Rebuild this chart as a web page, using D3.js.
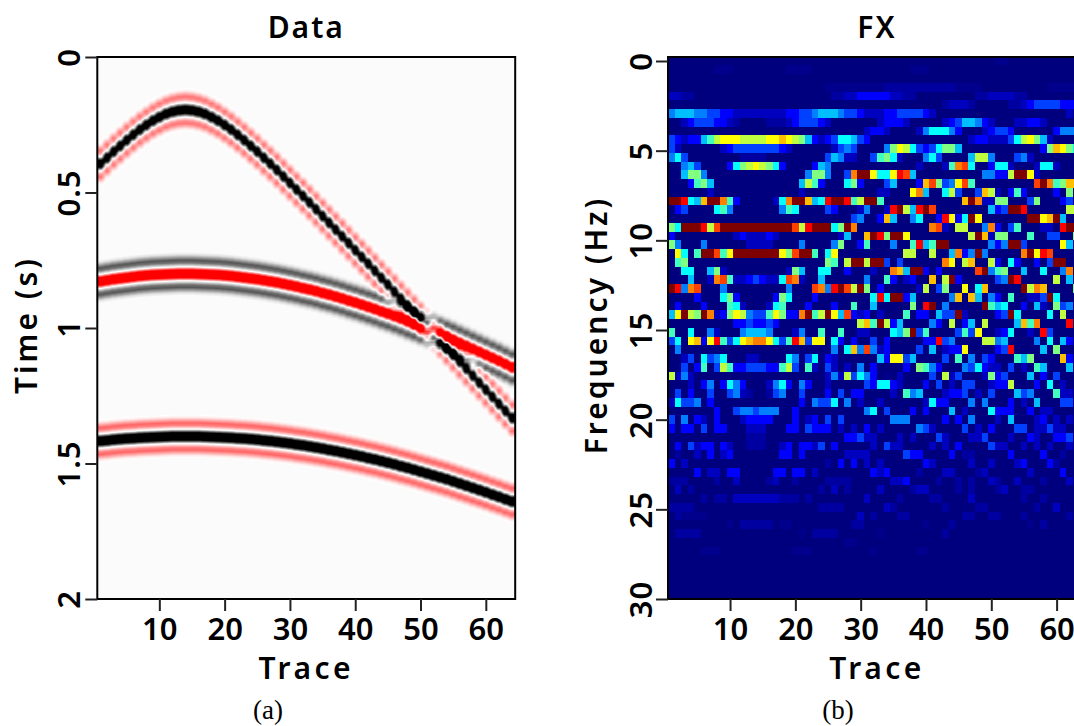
<!DOCTYPE html>
<html>
<head>
<meta charset="utf-8">
<script src="https://cdn.jsdelivr.net/npm/d3@7"></script>
<style>
  html, body { margin: 0; padding: 0; background: #fff; overflow: hidden; }
  svg { display: block; }
  text { fill: #000; font-family: "Noto Sans", sans-serif; font-weight: 600; }
  .caption { font-family: "Liberation Serif", serif; font-weight: 400; font-size: 27px; }
</style>
</head>
<body>
<svg id="chart" width="1074" height="726"></svg>
<script>
const traceTicks = [10, 20, 30, 40, 50, 60]
const timeTicks = [0, 0.5, 1, 1.5, 2]
const timeTickLabels = ['0', '0.5', '1', '1.5', '2']
const freqTicks = [0, 5, 10, 15, 20, 25, 30]

// picks (seconds), trace 1 to 64
const eventA = [
  0.394, 0.372, 0.349, 0.328, 0.307, 0.287, 0.268, 0.251, 0.235, 0.222, 0.210, 0.202, 0.197, 0.195,
  0.197, 0.202, 0.210, 0.222, 0.235, 0.251, 0.268, 0.287, 0.307, 0.328, 0.349, 0.372, 0.394, 0.417,
  0.441, 0.465, 0.489, 0.513, 0.537, 0.562, 0.587, 0.612, 0.637, 0.662, 0.687, 0.713, 0.738, 0.763,
  0.789, 0.815, 0.840, 0.866, 0.892, 0.917, 0.943, 0.969, 0.995, 1.021, 1.046, 1.072, 1.098, 1.124,
  1.150, 1.176, 1.202, 1.228, 1.254, 1.280, 1.306, 1.332,
]
const eventB = [
  0.828, 0.824, 0.820, 0.817, 0.814, 0.811, 0.808, 0.806, 0.804, 0.803, 0.802, 0.801, 0.800, 0.800,
  0.800, 0.801, 0.802, 0.803, 0.804, 0.806, 0.808, 0.811, 0.814, 0.817, 0.820, 0.824, 0.828, 0.832,
  0.837, 0.842, 0.847, 0.853, 0.858, 0.864, 0.871, 0.877, 0.884, 0.891, 0.899, 0.906, 0.914, 0.922,
  0.930, 0.939, 0.947, 0.956, 0.965, 0.975, 0.984, 0.994, 1.003, 1.013, 1.024, 1.034, 1.044, 1.055,
  1.066, 1.077, 1.088, 1.099, 1.110, 1.121, 1.133, 1.145,
]
const eventC = [
  1.417, 1.415, 1.412, 1.410, 1.408, 1.407, 1.405, 1.404, 1.403, 1.402, 1.401, 1.400, 1.400, 1.400,
  1.400, 1.400, 1.401, 1.402, 1.403, 1.404, 1.405, 1.407, 1.408, 1.410, 1.412, 1.415, 1.417, 1.420,
  1.423, 1.426, 1.430, 1.433, 1.437, 1.441, 1.445, 1.450, 1.454, 1.459, 1.464, 1.469, 1.474, 1.480,
  1.485, 1.491, 1.497, 1.503, 1.510, 1.516, 1.523, 1.530, 1.537, 1.544, 1.551, 1.558, 1.566, 1.574,
  1.582, 1.590, 1.598, 1.606, 1.615, 1.623, 1.632, 1.640,
]
// gain of each event: black centre (+) or red centre (-)
const eventGain = [0.9, -1.05, 1]

// wavelet seen on the events, lag in seconds and amplitude
const waveletLag = [-0.08, -0.07, -0.06, -0.05, -0.04, -0.03, -0.025, -0.02, -0.01, 0, 0.01, 0.02, 0.025, 0.03, 0.04, 0.05, 0.06, 0.07, 0.08]
const waveletAmp = [0, -0.1, -0.36, -0.62, -0.5, -0.12, 0.05, 0.5, 1.3, 1.6, 1.3, 0.5, 0.05, -0.12, -0.5, -0.62, -0.36, -0.1, 0]

// FX amplitudes, one string per 0.488 Hz row: "trace:level", level 0-f on the colour bar, , and - are the faintest
const fxFreqStep = 0.488
const fxRows = [
  '50-51:,',
  '7-9:, 18-21:, 37-39:,',
  '',
  '24-29:, 30-47:, 33-43:- 58-62:,',
  '0-1:1 2-3:- 25-26:- 27-28:1 29-33:2 34-35:1 36-37:- 47-54:- 49-52:1',
  '42-46:- 43-45:1 52-53:- 54:1 55:2 56-59:3 60-62:2',
  '0:4 1-3:5 4-5:4 6-7:3 8-9:2 10-17:1 18-19:2 20-21:3 22:4 23-25:5 26:4 27-28:3 29:2 30-32:1 33-34:2 35-38:3 39:2 40:1 61:1',
  '2:1 3:2 4-6:3 7-8:2 9:1 10:- 15-17:- 18:1 19:2 20-22:3 23:2 24:1 32:1 33-35:2 36:1 42:1 43:2 44:3 45-46:5 47:4 48:2 49:1 53-54:1 55-56:2 57:1',
  '30:1 31-32:2 33:1 38:1 39:4 40-42:6 43:4 44:2 48:1 49:2 50-51:3 52:2 59:2 60-62:4',
  '0:3 1:2 2:1 3-4:2 5:5 6:7 7:9 8-10:a 11-14:9 15-16:a 17:b 18:a 19:9 20:8 21:5 22:2 23:1 24:2 25:3 26-27:6 28:5 29:3 30:2 46:1 47-48:2 49-51:1 52:3 53:6 54:9 55:a 56:8 57:5 58:1',
  '0:3 1:1 8:1 9:2 10-16:3 17:2 18:1 25:1 26:3 27:4 28:3 33:4 34:8 35:a 36:9 37:6 38:3 39:2 40:3 41:6 42-43:8 44:5 57:2 58:8 59:b 60:a 61:8 62:6',
  '0:4 1:6 2:3 11-14:- 24:3 25:5 26:4 27-28:1 31:3 32:7 33:8 34:6 35:1 39:4 40:6 41:3 46:5 47-48:9 49:4 53:3 54:4 55:1',
  '2:4 3:5 4:3 9:2 10:6 11:8 12:9 13:a 14:9 15:8 16:6 17:2 22:2 23:5 24:4 38:1 42:1 43:7 44:c 45:d 46:6 49:2 50-51:6 52:1 56:1 57-58:6 59:1',
  '2:5 3-4:8 5:4 21:4 22-23:8 24:4 27:3 28:c 29-30:f 31:a 32-33:6 34:a 35:e 36:d 37:5 48-49:4 50-51:2 52:9 53-54:f 55:a 56:1',
  '3:2 4:7 5:8 6:5 20:5 21:9 22:7 23:2 27:6 28:8 29:2 33:3 34:5 38:2 39:b 40:d 41:8 42:3 43:4 44:a 45:d 46:7 56:d 57:f 58:c 59:7 60:8 61-62:b',
  '6:1 20:1 32-33:1 37:a 38:c 39:5 42:6 43:9 44:3 47:3 48:b 49:9 50:1 52:2 53:7 54:2 59:2 61:8',
  '0-1:f 2:e 3:6 4:5 5:b 6-7:f 8:c 9:7 10:2 16:1 17:6 18:c 19-20:f 21:b 22:5 23:6 24:e 25-26:f 27:e 28:7 29:9 30-31:f 32:7 45:b 46:f 47:c 48-49:1 50-51:8 55:3 56:8 60:2 61:3',
  '1:2 2:3 7:6 8:7 9:4 17:4 18:7 19:6 24:3 25:2 29:1 30:4 33:1 34:e 35:f 36:9 37:5 38:e 39:f 40:d 49:5 50:2 51:3 52-53:f 54:e 61-62:9',
  '28:3 29:4 32:2 33:b 34:5 37:4 38:6 41:2 42:e 43:a 44:2 45:6 46:f 47:a 55-56:f 57:a 58:b 59:f 60:5',
  '0:8 1:6 2-4:f 5:e 6:9 7:d 8-18:f 19:d 20:9 21:e 22-24:f 25:6 26:8 27:f 28:c 40:c 41:d 42:1 44-45:9 48:4 49:c 50:2 52:3 53:7 57-58:1 60:e 61-62:f',
  '0:2 10:1 11:2 12-14:1 15:2 16:1 26:1 27:5 30:b 31:f 32:e 33:8 34-35:f 36:a 46:9 47:f 48:b 49:1 50-51:8 55:7 58-59:3 62:8',
  '0:8 1:4 5:4 12-15:1 20:4 25:4 26:8 29:2 30:7 34:4 37:7 38:e 39:5 40:7 41-42:f 49:4 50:2 51:4 52-53:f 54:3 60:a 61:5',
  '1:a 2:6 4:7 5-6:f 7:d 8:7 9:a 10-16:f 17:a 18:8 19:d 20-21:f 22:7 24:6 25:a 36-37:9 40:9 43:5 44:c 45:2 46:4 47:f 48:4 54:c 55:f 56:a 57:e 58:d',
  '1:7 2:8 24:8 25:7 27:9 28-29:f 30:9 31-32:f 33:3 35:3 42:c 43:a 45:9 46:b 49:9 50:2 52:6 53:2 56:2 58:3 59-60:f',
  '2-3:6 6:5 7:8 8:1 18:1 19:8 20:5 23-24:6 27:2 31:1 34:c 35:b 36:5 37-38:f 39:2 41:2 47:d 48:f 49:4 50:7 51:8 54:5 57:6 60:4 61:c',
  '3:5 6:1 7:c 8:d 9:7 10-11:1 12:2 13:3 14:2 15-16:1 17:6 18:d 19:c 20:1 23:5 30:4 33:7 34:2 36:1 37:2 40:b 42:9 43:f 44:2 50:3 51:4 52:f 53:e 59:9 61:5',
  '0:f 1:e 2:4 3:c 4:d 8:4 18:4 22:d 23:c 24:4 25:e 26:f 27:d 28:9 29:f 30:8 32:2 38:1 39:9 41:3 42:8 45:a 47:6 48:b 54:f 55:9 56:c 57:b 62:8',
  '4:2 8:6 9:8 10:2 16:2 17:8 18:6 22:2 31:6 32:e 33:6 34-35:f 36:2 37:5 43:4 44:b 46:b 47:5 49:4 50:2 52:7 55-56:1 57:3 58:f 59:6',
  '1:2 5:2 9:7 10:6 11:1 15:1 16:6 17:7 21:2 25:2 28:7 31:5 37:8 39:e 40:f 42:4 48:f 49:7 50:5 51:6 54:2 56:5 57:1 59:8 60:3 61:4',
  '0:5 1:a 2:f 3:9 4:8 5:f 6:c 7:1 8:2 9:8 10:a 11:9 12:4 13-14:3 15:7 16:a 17:8 18-19:2 20:c 21:f 22:7 23:9 24:f 25:a 26:5 27:d 28:2 29:1 30:2 32:1 36:7 38-39:2 41:5 42-43:3 44:f 45:1 50:2 51:3 52:f 53:6 58:6 60:9',
  '10-11:2 12:3 13-14:2 15:3 16:2 29:9 30:b 31:7 32:f 33:9 34:2 35:5 40:4 41:2 43:9 45:2 46:5 48:9 53:5 54:b 55:7 56:c 61:e',
  '0:7 3:6 6:4 7:1 11:4 12-14:5 15:4 19:1 20:4 23:7 26:7 29-30:1 34:6 35:5 36:8 37:f 38:3 39:7 44:3 45:7 46:3 47:a 50:1 51:2 52:6 55:1 57:e 58:3',
  '0:3 1:6 3:a 4:b 5:2 6:a 7:e 8:7 9:3 10:6 11:a 12:b 13-14:c 15:a 16:6 17:3 18:7 19:e 20:b 21:3 22-23:a 25:6 26:2 28:2 31:3 33:2 39-40:2 41:e 42:3 43:4 48-49:9 50:4 51:5 56:4 58:6 60:5 61:2',
  '1:4 25:4 27:6 28:b 29:4 30:d 31:4 32:1 33:2 38:3 40:5 42:1 43-44:2 45:a 50:2 51:3 52:e 57:5 59:8',
  '2:1 3:3 5:6 6:3 7:4 8:6 12-13:1 18:6 19:4 21:3 22:6 24:2 25:1 32:5 33:2 34-35:a 36:3 37:5 42:3 44:7 46:4 48:3 49:2 53:7 54:5 55:8 60:b 61:2',
  '2:3 4:2 5:7 7:3 8:9 9:7 10-11:2 12-14:3 15-16:2 17:7 18:9 19:3 21:7 22:1 24:3 25:1 27:1 29:4 31:2 36:2 38:8 39:7 40:4 41:2 45:4 46:3 47:6 48:2 49-50:1 52:3 54:1 56:7 57:5 61:5',
  '0:9 1:1 2:4 3:1 24:1 25:4 26:1 27:9 28:3 29:6 30:4 31:2 33:, 35:1 40:3 42:9 43:1 44:3 48:1 49:8 50:2 51:3 55:5 57:2 59:3',
  '3:1 5:2 6:4 8:2 9:6 10:4 11:2 15:1 16:4 17:6 18:2 20:4 21:2 24:1 30:3 31:2 32-33:6 34:2 35:1 39:2 41:3 43:1 45-46:3 49:1 50-51:2 52:9 56:2 58:6 60:1',
  '1:3 3:2 6:3 9:3 10:4 11:1 12:- 15:- 16:3 17:4 20:3 24:2 26:3 28-29:2 34:1 36:7 37:4 38:5 42:1 43-44:2 45:3 47:1 49:3 53:5 54:3 55:4 59:7 60-61:1',
  '0:1 1:6 2-3:3 4:4 6:2 20:2 22:4 23-24:3 25:6 27:4 29:1 32:1 39:1 40:6 41-42:2 46:4 48:4 52:2 54:1 56:5 60-61:3',
  '7:2 10:3 11-12:4 13:3 14-16:4 19:2 30:4 31:6 33:3 37:2 39:2 43:5 45:1 49:6 50-52:2 55:2 57-58:1',
  '0:3 2:4 4:2 5:1 7:2 11:1 12-15:2 19:2 21:1 22:2 24:3 26:3 34-36:4 42:2 44:2 46:4 50:1 52:5 56:1 57:2 59:1 61:1',
  '0:2 2-3:2 5:3 7-8:2 12-14:1 18-19:2 21:3 22-24:2 26:1 28:1 30:2 32:1 38:4 39:3 40:1 45:3 47:1 49:2 53-54:3 56-57:1 58:3 59-60:1',
  '12-14:- 27-28:2 29:3 30-31:1 35:1 37:1 41:3 42:1 46-47:1 48:3 52:1 55:2 56:1 59-60:2 61:3',
  '1:2 3:3 4:1 5-6:2 8:2 9:1 12-14:- 17:1 18:2 20-21:2 22:1 23:3 25:2 31:1 33:3 34-35:1 40:1 42:1 44:2 49:3 50-51:1 54:1 56:1 58:1 61:1',
  '1:- 4:1 6:2 8:1 9:2 17-18:2 20:2 27-30:1 36:3 37-38:2 43:2 45-46:- 52:2 57:2 60:-',
  '0:2 2:1 24:- 26:2 28:2 30:1 32:1 39:2 40:1 46:1 49:1 53:1 54:2 58:2 59:-',
  '4:2 6-7:1 9-10:2 16-17:2 19-20:2 22:1 31:2 32:1 33:2 38:- 42-43:1 47:- 48:1 55:1 60:2',
  '0-2:- 7:- 10:1 15:- 16:1 19:- 24-27:- 34-35:1 36:2 41:- 44:- 46:- 49:1 50:- 53:1 57:- 61:1',
  '1:1 3:- 23:- 25:1 27:- 32:1 37:- 38-39:1 44:- 46:- 50:- 51:1 54-55:-',
  '5:- 7-8:- 10-16:1 17-19:- 21:- 30:1 35:- 40-41:- 46:1 54:- 57:-',
  '0-3:- 23-26:- 33:1 34:- 42:- 47-48:- 56:- 59:1',
  '1:- 2-5:, 29:1 31:- 35-36:- 45-46:- 49-50:- 54:- 61:-',
  '9:, 11-15:- 17-18:, 28-29:- 39:, 43:- 55:, 57:-',
  '1-4:- 20:, 22-25:- 32:, 42:-',
  '27-28:,',
  '5-7:, 19-21:, 31:, 38-39:,',
  '',
  '',
  '',
  '',
  '',
  '',
]

const svg = d3.select('#chart')

const panelTop = 57
const panelBottom = 599
const traceCount = eventA.length

const xData = d3.scaleLinear().domain([0.5, 64.5]).range([97.3, 515.2])
const xFx = d3.scaleLinear().domain([0.5, 64.5]).range([668, 1086])
const yTime = d3.scaleLinear().domain([0, 2]).range([panelTop, panelBottom])
const yFreq = d3.scaleLinear().domain([0, 30]).range([61, panelBottom])

// 地震剖面色标：负值白到红，正值白到黑
const seismic = d3.scaleLinear().domain([-1, 0, 1]).range(['#ff0000', '#ffffff', '#000000']).clamp(true)
const jet = d3.scaleLinear()
  .domain([0, 2 / 15, 6 / 15, 10 / 15, 14 / 15, 1])
  .range(['#00007f', '#0000ff', '#00ffff', '#ffff00', '#ff0000', '#7f0000'])

const wavelet = d3.scaleLinear().domain(waveletLag).range(waveletAmp).clamp(true)

function traceValue(index, time) {
  return d3.sum([eventA, eventB, eventC], (picks, e) => eventGain[e] * wavelet(time - picks[index])) + 0.015
}

function drawDataPanel() {
  const left = xData.range()[0]
  const width = Math.round(xData.range()[1] - left)
  const height = panelBottom - panelTop
  const canvas = document.createElement('canvas')
  canvas.width = width
  canvas.height = height
  const ctx = canvas.getContext('2d')
  const image = ctx.createImageData(width, height)
  for (let py = 0; py < height; py++) {
    const time = yTime.invert(panelTop + py + 0.5)
    for (let px = 0; px < width; px++) {
      const trace = Math.min(traceCount, Math.max(1, xData.invert(left + px + 0.5)))
      const i0 = Math.min(traceCount - 1, Math.floor(trace)) - 1
      // 道间过渡略微收窄，陡倾角同相轴才有锯齿
      const f = Math.min(1, Math.max(0, (trace - 1 - i0 - 0.5) * 1.35 + 0.5))
      const value = traceValue(i0, time) * (1 - f) + traceValue(i0 + 1, time) * f
      const c = d3.rgb(seismic(value))
      const o = (py * width + px) * 4
      image.data[o] = c.r
      image.data[o + 1] = c.g
      image.data[o + 2] = c.b
      image.data[o + 3] = 255
    }
  }
  ctx.putImageData(image, 0, 0)
  svg.append('image')
    .attr('x', left)
    .attr('y', panelTop)
    .attr('width', width)
    .attr('height', height)
    .attr('href', canvas.toDataURL())
}

function parseRow(row) {
  const cells = []
  row.split(' ').filter(Boolean).forEach((token) => {
    const [span, code] = token.split(':')
    const [from, to] = span.split('-').map(Number)
    const level = code === ',' ? 0.015 : code === '-' ? 0.035 : parseInt(code, 16) / 15
    d3.range(from, (to === undefined ? from : to) + 1).forEach((col) => {
      cells[col] = level
    })
  })
  return cells
}

function drawFxPanel() {
  svg.append('clipPath').attr('id', 'fx-clip')
    .append('rect')
    .attr('x', xFx.range()[0])
    .attr('y', panelTop)
    .attr('width', xFx.range()[1] - xFx.range()[0])
    .attr('height', panelBottom - panelTop)

  const cells = []
  fxRows.forEach((row, r) => {
    const parsed = parseRow(row)
    d3.range(traceCount).forEach((col) => {
      cells.push({r, col, level: parsed[col] || 0})
    })
  })

  svg.append('g')
    .attr('clip-path', 'url(#fx-clip)')
    .attr('shape-rendering', 'crispEdges')
    .selectAll('rect')
    .data(cells)
    .join('rect')
    .attr('x', (d) => xFx(d.col + 0.5))
    .attr('y', (d) => yFreq((d.r - 0.5) * fxFreqStep))
    .attr('width', xFx(2) - xFx(1) + 0.5)
    .attr('height', yFreq(fxFreqStep) - yFreq(0) + 0.5)
    .attr('fill', (d) => jet(d.level))
}

function styleAxis(g) {
  g.select('.domain').remove()
  g.selectAll('.tick line').attr('stroke', '#222').attr('stroke-width', 2)
  g.selectAll('.tick text').attr('font-size', 31).attr('font-family', null)
}

function drawFrame(x, title, yAxis, yLabel, yLabelX, yTickX) {
  const [x0, x1] = x.range()

  svg.append('rect')
    .attr('x', x0)
    .attr('y', panelTop)
    .attr('width', x1 - x0)
    .attr('height', panelBottom - panelTop)
    .attr('fill', 'none')
    .attr('stroke', '#000')
    .attr('stroke-width', 2)

  svg.append('g')
    .attr('transform', `translate(0,${panelBottom})`)
    .call(d3.axisBottom(x).tickValues(traceTicks).tickSize(12).tickPadding(0))
    .call(styleAxis)
    .selectAll('.tick text')
    .attr('dy', null)
    .attr('y', 41)

  svg.append('g')
    .attr('transform', `translate(${x0},0)`)
    .call(yAxis.tickSize(12))
    .call(styleAxis)
    .selectAll('.tick text')
    .attr('dy', null)
    .attr('x', null)
    .attr('y', null)
    .attr('text-anchor', 'middle')
    .attr('letter-spacing', 1)
    .attr('transform', `translate(${yTickX},0) rotate(-90)`)

  const mid = (x0 + x1) / 2
  svg.append('text').attr('x', mid).attr('y', 38).attr('text-anchor', 'middle')
    .attr('font-size', 30).attr('letter-spacing', 2).text(title)
  svg.append('text').attr('x', mid).attr('y', 679).attr('text-anchor', 'middle')
    .attr('font-size', 30).attr('letter-spacing', 3.5).text('Trace')
  svg.append('text')
    .attr('transform', `translate(${yLabelX},${(panelTop + panelBottom) / 2 - 3}) rotate(-90)`)
    .attr('text-anchor', 'middle')
    .attr('font-size', 30)
    .attr('letter-spacing', 3)
    .text(yLabel)
}

drawDataPanel()
drawFxPanel()

drawFrame(
  xData,
  'Data',
  d3.axisLeft(yTime).tickValues(timeTicks).tickFormat((d, i) => timeTickLabels[i]),
  'Time (s)',
  37,
  -17,
)
drawFrame(
  xFx,
  'FX',
  d3.axisLeft(yFreq).tickValues(freqTicks).tickFormat(d3.format('d')),
  'Frequency (Hz)',
  607,
  -16,
)

svg.append('text').attr('class', 'caption').attr('x', 268).attr('y', 719).attr('text-anchor', 'middle').text('(a)')
svg.append('text').attr('class', 'caption').attr('x', 838).attr('y', 719).attr('text-anchor', 'middle').text('(b)')
</script>
</body>
</html>
